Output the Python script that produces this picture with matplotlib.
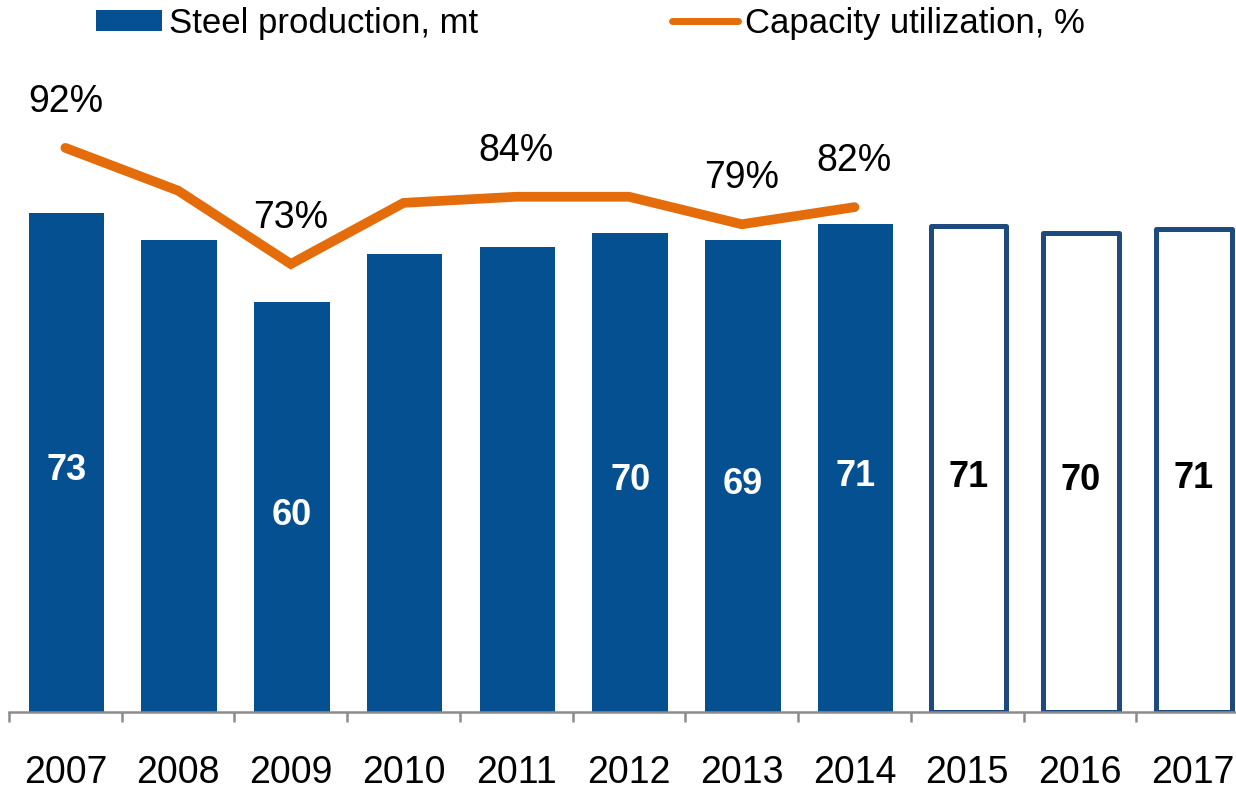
import matplotlib
matplotlib.use("Agg")
import matplotlib.pyplot as plt
from matplotlib.patches import Patch
from matplotlib.lines import Line2D
import numpy as np

years = ["2007", "2008", "2009", "2010", "2011", "2012", "2013", "2014", "2015", "2016", "2017"]
production = [73, 69, 60, 67, 68, 70, 69, 71.4, 71, 70, 70.6]
production_labels = ["73", "", "60", "", "", "70", "69", "71", "71", "70", "71"]
forecast = [False] * 8 + [True] * 3
util_years = years[:8]
utilization = [92, 85, 73, 83, 84, 84, 79.5, 82.3]
util_labels = ["92%", "", "73%", "", "84%", "", "79%", "82%"]

BLUE = "#055091"
EDGE = "#1F4A7E"
ORANGE = "#E46C0A"
GRAY = "#8C8C8C"
FONT = "Liberation Sans"

plt.rcParams["font.family"] = [FONT, "DejaVu Sans"]

W, H = 1236, 790
fig = plt.figure(figsize=(W / 100, H / 100), dpi=100)
left_px, base_px = 9, 712
x_right_px = 1249
ax = fig.add_axes([left_px / W, (H - base_px) / H, (x_right_px - left_px) / W, base_px / H])

x = np.arange(len(years))
bw = 0.67
for xi, v, f, lab in zip(x, production, forecast, production_labels):
    if f:
        ax.bar(xi + 0.01, v, width=bw, facecolor="white", edgecolor=EDGE, linewidth=3.6,
               joinstyle="round", zorder=2)
        col = "black"
    else:
        ax.bar(xi + 0.01, v, width=bw, color=BLUE, linewidth=0, zorder=2)
        col = "white"
    if lab:
        ax.annotate(lab, (xi + 0.01, v / 2), xytext=(0, -6), textcoords="offset points",
                    ha="center", va="center", color=col,
                    fontsize=26, fontweight="bold", zorder=4)

ax.set_xlim(-0.5, len(years) - 0.5)
ax.set_ylim(0, 104.1)

for s in ["left", "right", "top"]:
    ax.spines[s].set_visible(False)
ax.spines["bottom"].set_color(GRAY)
ax.spines["bottom"].set_linewidth(1.8)
ax.spines["bottom"].set_zorder(5)
ax.set_yticks([])
ax.set_xticks(x)
ax.set_xticklabels(years, fontsize=27)
ax.tick_params(axis="x", which="major", length=0, pad=31)
ax.set_xticks(np.arange(-0.5, len(years) + 0.5, 1), minor=True)
ax.tick_params(axis="x", which="minor", length=7.5, width=1.8, color=GRAY, direction="out")

ax2 = ax.twinx()
ax2.set_ylim(-0.32, 116.2)
ax2.axis("off")
xu = np.arange(len(util_years))
ax2.plot(xu, utilization, color=ORANGE, linewidth=7, solid_capstyle="round",
         solid_joinstyle="miter", zorder=3)
for xi, v, lab in zip(xu, utilization, util_labels):
    if lab:
        ax2.annotate(lab, (xi, v), xytext=(0, 33), textcoords="offset points",
                     ha="center", va="center", fontsize=27)

handles = [Patch(facecolor=BLUE, edgecolor="none"),
           Line2D([0], [0], color=ORANGE, linewidth=5, solid_capstyle="round")]
fig.legend(handles, ["Steel production, mt", "Capacity utilization, %"],
           loc="center left", bbox_to_anchor=(96 / W, 1 - 23 / H), ncol=2, frameon=False,
           fontsize=25, handlelength=1.9, handleheight=0.55, handletextpad=0.2,
           columnspacing=5.6, borderpad=0, borderaxespad=0)

fig.savefig("out.png", dpi=100)
